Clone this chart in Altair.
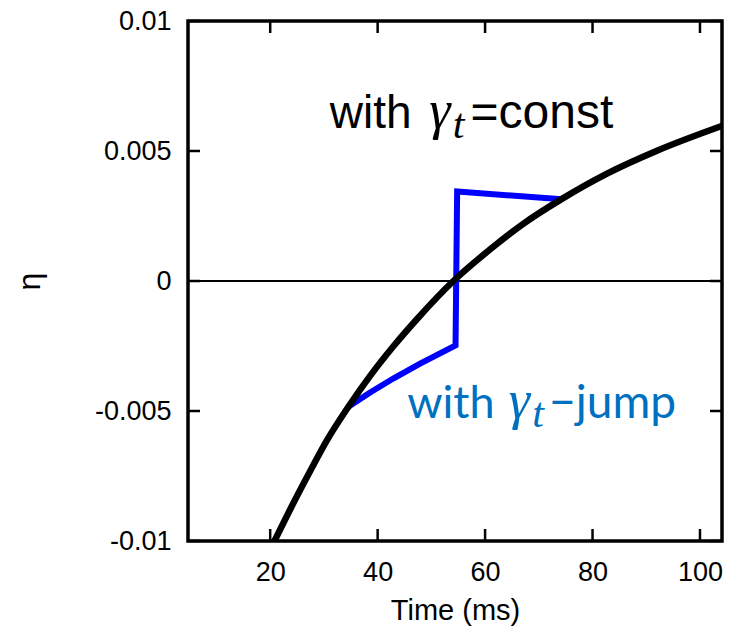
import altair as alt
import pandas as pd

# Black curve (gamma_t = const)
curve_t = [20.8, 24.3, 27.4, 30.5, 34.55, 38.6, 42.9, 47.3, 54.1, 60.9, 67.1, 74.0, 82.7, 92.0, 104.3]
curve_eta = [-0.0100, -0.00855, -0.00733, -0.00615, -0.00484, -0.00365, -0.00252, -0.00147, 0.0,
             0.00121, 0.00220, 0.00312, 0.00413, 0.00501, 0.00598]

# Blue path (gamma_t jump)
blue_t = [34.55, 38.6, 42.9, 47.9, 54.5, 54.8, 74.3]
blue_eta = [-0.00484, -0.00429, -0.00375, -0.00318, -0.00248, 0.00344, 0.00314]

x_ticks = [20, 40, 60, 80, 100]
y_ticks = [-0.01, -0.005, 0, 0.005, 0.01]

W, H = 534, 520
XDOM = [4.7, 104.1]
YDOM = [-0.01, 0.01]

curve_df = pd.DataFrame({"t": curve_t, "eta": curve_eta, "o": list(range(len(curve_t)))})
blue_df = pd.DataFrame({"t": blue_t, "eta": blue_eta, "o": list(range(len(blue_t)))})
xt_df = pd.DataFrame({"t": x_ticks})
yt_df = pd.DataFrame({"eta": y_ticks})

xscale = alt.Scale(domain=XDOM, nice=False, zero=False)
yscale = alt.Scale(domain=YDOM, nice=False, zero=False)

xax = alt.Axis(values=x_ticks, ticks=False, tickSize=0, domain=False, grid=False,
               labelFont="Liberation Sans", labelFontSize=27, labelColor="black",
               labelPadding=18, title="Time (ms)", titleFont="Liberation Sans",
               titleFontSize=29, titleFontWeight="normal", titleColor="black", titlePadding=11)
yax = alt.Axis(values=y_ticks, ticks=False, tickSize=0, domain=False, grid=False,
               labelFont="Liberation Sans", labelFontSize=27, labelColor="black",
               labelPadding=17, labelExpr="'' + datum.value",
               title="η", titleFont="Liberation Sans", titleFontSize=32,
               titleFontWeight="normal", titleColor="black",
               titleX=-149, titleY=H / 2, titleAngle=-90, titleAlign="center",
               titleBaseline="alphabetic")

base_x = alt.X("t:Q", scale=xscale, axis=xax)
base_y = alt.Y("eta:Q", scale=yscale, axis=yax)

zero = alt.Chart(pd.DataFrame({"eta": [0.0]})).mark_rule(color="black", strokeWidth=1.8).encode(
    y=alt.Y("eta:Q", scale=yscale, axis=yax))

blue = alt.Chart(blue_df).mark_line(color="#0000FF", strokeWidth=6, clip=True, strokeJoin="miter").encode(
    x=base_x, y=base_y, order="o:Q")

black = alt.Chart(curve_df).mark_line(color="black", strokeWidth=6.5, clip=True,
                                      interpolate="monotone").encode(
    x=base_x, y=base_y, order="o:Q")

tick_len = 12
xb = alt.Chart(xt_df).mark_rule(color="black", strokeWidth=2.5).encode(
    x=alt.X("t:Q", scale=xscale, axis=xax), y=alt.value(H), y2=alt.value(H - tick_len))
xtop = alt.Chart(xt_df).mark_rule(color="black", strokeWidth=2.5).encode(
    x=alt.X("t:Q", scale=xscale, axis=xax), y=alt.value(0), y2=alt.value(tick_len))
yl = alt.Chart(yt_df).mark_rule(color="black", strokeWidth=2.5).encode(
    y=alt.Y("eta:Q", scale=yscale, axis=yax), x=alt.value(0), x2=alt.value(tick_len))
yr = alt.Chart(yt_df).mark_rule(color="black", strokeWidth=2.5).encode(
    y=alt.Y("eta:Q", scale=yscale, axis=yax), x=alt.value(W), x2=alt.value(W - tick_len))

frame = alt.Chart(pd.DataFrame({"a": [0]})).mark_rect(
    fill=None, stroke="black", strokeWidth=3.5).encode(
    x=alt.value(0), x2=alt.value(W), y=alt.value(0), y2=alt.value(H))


def txt(text, t, eta, color, font, size, style="normal"):
    return alt.Chart(pd.DataFrame({"a": [0]})).mark_text(
        text=text, align="left", baseline="alphabetic", color=color, font=font,
        fontSize=size, fontStyle=style).encode(
        x=alt.datum(t, scale=xscale), y=alt.datum(eta, scale=yscale))


label1 = [
    txt("with", 31.1, 0.00589, "black", "Liberation Sans", 46),
    txt("γ", 49.6, 0.00589, "black", "Liberation Serif", 54, "italic"),
    txt("t", 54.0, 0.00550, "black", "Liberation Serif", 42, "italic"),
    txt("=const", 57.3, 0.00589, "black", "Liberation Sans", 48),
]
label2 = [
    txt("with", 45.5, -0.00527, "#0070C0", "Lato", 45),
    txt("γ", 64.4, -0.00527, "#0070C0", "Liberation Serif", 54, "italic"),
    txt("t", 68.8, -0.00560, "#0070C0", "Liberation Serif", 42, "italic"),
    txt("−jump", 71.9, -0.00527, "#0070C0", "Lato", 46),
]

chart = alt.layer(zero, blue, black, xb, xtop, yl, yr, frame, *label1, *label2).properties(
    width=W, height=H,
    autosize=alt.AutoSizeParams(type="none"),
    padding={"left": 188, "top": 21, "right": 7, "bottom": 91},
).configure_view(stroke=None).configure(background="white")

chart.save("out.html", embed_options={"renderer": "svg", "actions": False})
